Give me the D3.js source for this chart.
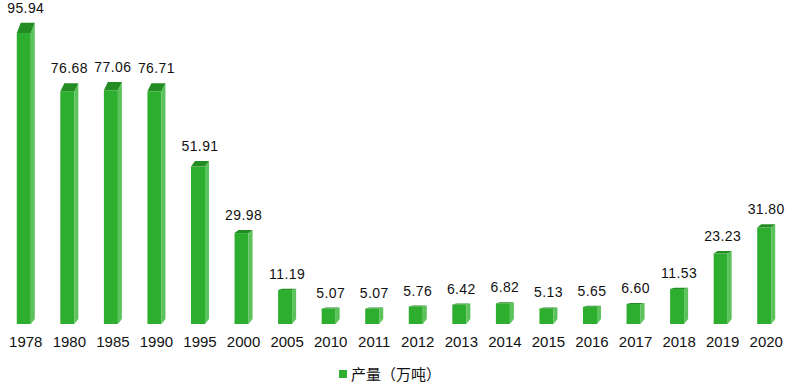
<html lang="zh">
<head>
<meta charset="UTF-8">
<title>产量</title>
<style>
  body { margin: 0; background: #fff; }
  text { font-family: "Liberation Sans", Arial, sans-serif; }
</style>
</head>
<body>
<script src="https://d3js.org/d3.v7.min.js"></script>
<div id="chart"></div>
<script>
// data
var years = ["1978", "1980", "1985", "1990", "1995", "2000", "2005", "2010", "2011",
             "2012", "2013", "2014", "2015", "2016", "2017", "2018", "2019", "2020"];
var output = [95.94, 76.68, 77.06, 76.71, 51.91, 29.98, 11.19, 5.07, 5.07,
              5.76, 6.42, 6.82, 5.13, 5.65, 6.60, 11.53, 23.23, 31.80];
var seriesName = "产量（万吨）";

var width = 791, height = 385, base = 324;

var svg = d3.select("#chart").append("svg")
  .attr("width", width)
  .attr("height", height);

var x = d3.scaleBand()
  .domain(years)
  .range([4, 788]);

var y = d3.scaleLinear()
  .domain([0, 100])
  .range([base, 20.7]);

var frontColor = "#2eae2e", topColor = "#238d23", sideColor = "#5cc25c";
var frontW = 14, depth = 4;

var bars = svg.selectAll("g.bar")
  .data(years.map(function(d, i) { return {year: d, value: output[i]}; }))
  .enter().append("g")
  .attr("class", "bar");

function geom(d) {
  var cx = x(d.year) + x.bandwidth() / 2;
  var fl = cx - (frontW + depth) / 2;
  var fr = fl + frontW;
  var yt = y(d.value);
  var dy = Math.max(1, (base - yt) * 0.035);
  return {fl: fl, fr: fr, yt: yt, dy: dy, cx: cx};
}

// front face
bars.append("rect")
  .attr("x", function(d) { return geom(d).fl; })
  .attr("y", function(d) { return geom(d).yt; })
  .attr("width", frontW)
  .attr("height", function(d) { return base - geom(d).yt; })
  .attr("fill", frontColor);

// side face
bars.append("path")
  .attr("d", function(d) {
    var g = geom(d);
    var bdy = Math.min(5, base - g.yt);
    return "M" + g.fr + "," + g.yt +
      "L" + (g.fr + depth) + "," + (g.yt - g.dy) +
      "L" + (g.fr + depth) + "," + (base - bdy) +
      "L" + g.fr + "," + base + "Z";
  })
  .attr("fill", sideColor);

// top face
bars.append("path")
  .attr("d", function(d) {
    var g = geom(d);
    return "M" + g.fl + "," + g.yt +
      "L" + g.fr + "," + g.yt +
      "L" + (g.fr + depth) + "," + (g.yt - g.dy) +
      "L" + (g.fl + depth) + "," + (g.yt - g.dy) + "Z";
  })
  .attr("fill", topColor);

// value labels
bars.append("text")
  .attr("x", function(d) { return geom(d).cx; })
  .attr("y", function(d) { var g = geom(d); return g.yt - g.dy - 10; })
  .attr("text-anchor", "middle")
  .style("font-size", "14px")
  .style("letter-spacing", "0.4px")
  .attr("fill", "#111")
  .text(function(d) { return d.value.toFixed(2); });

// x axis labels
var xAxis = svg.append("g")
  .attr("transform", "translate(0," + base + ")")
  .call(d3.axisBottom(x).tickSize(0).tickPadding(12));
xAxis.select(".domain").remove();
xAxis.selectAll("text")
  .style("font-size", "15px")
  .style("font-family", "'Liberation Sans', Arial, sans-serif")
  .attr("fill", "#111");

// legend
var legend = svg.append("g").attr("transform", "translate(339,370)");
legend.append("rect")
  .attr("width", 8).attr("height", 8)
  .attr("fill", frontColor);
legend.append("text")
  .attr("x", 12).attr("y", 10)
  .style("font-family", "'Noto Sans CJK SC', sans-serif")
  .style("font-size", "15px")
  .attr("fill", "#111")
  .text(seriesName);
</script>
</body>
</html>
